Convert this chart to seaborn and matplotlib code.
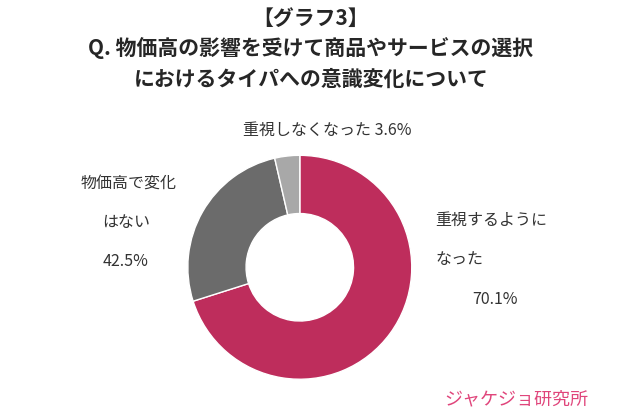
import matplotlib.pyplot as plt
import seaborn as sns

sns.set_style('white')
plt.rcParams['font.family'] = ['Noto Sans CJK JP', 'Noto Sans CJK SC', 'DejaVu Sans']

# slice sizes as drawn; label texts as printed in the chart
categories = ['重視するように\nなった', '物価高で変化\nはない', '重視しなくなった']
slice_values = [70.1, 26.3, 3.6]
label_texts = ['70.1%', '42.5%', '3.6%']
colors = ['#BE2D5C', '#6B6B6B', '#A8A8A8']

fig = plt.figure(figsize=(6.22, 4.16), dpi=100)
fig.text(0.5, 0.955, '【グラフ3】', ha='center', va='center', fontsize=15, fontweight='bold')
fig.text(0.5, 0.885, 'Q. 物価高の影響を受けて商品やサービスの選択', ha='center', va='center',
         fontsize=15, fontweight='bold')
fig.text(0.5, 0.81, 'におけるタイパへの意識変化について', ha='center', va='center',
         fontsize=15, fontweight='bold')

ax = fig.add_axes([0.257, 0.02, 0.45, 0.675])
ax.pie(slice_values, colors=colors, startangle=90, counterclock=False,
       wedgeprops=dict(width=0.52, edgecolor='white', linewidth=1))
ax.set_aspect('equal')

txt = dict(fontsize=11.5, color='#333333')
fig.text(0.70, 0.46, categories[0].split('\n')[0], **txt)
fig.text(0.70, 0.365, categories[0].split('\n')[1], **txt)
fig.text(0.76, 0.27, label_texts[0], **txt)

fig.text(0.13, 0.55, categories[1].split('\n')[0], **txt)
fig.text(0.165, 0.455, categories[1].split('\n')[1], **txt)
fig.text(0.165, 0.36, label_texts[1], **txt)

fig.text(0.39, 0.675, categories[2] + ' ' + label_texts[2], **txt)

fig.text(0.83, 0.04, 'ジャケジョ研究所', ha='center', va='center', fontsize=13,
         color='#E0457B', style='italic')

fig.savefig('out.png', dpi=100)
